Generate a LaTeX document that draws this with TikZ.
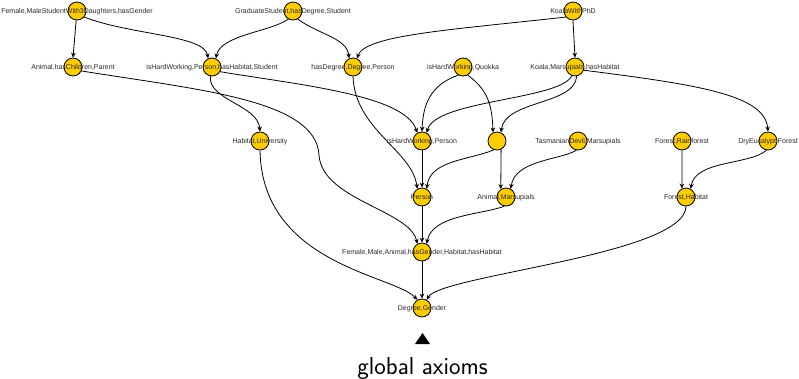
\documentclass[tikz,border=0pt]{standalone}
\usepackage{fontspec}
\newfontfamily\lblfont{Liberation Sans}
\usetikzlibrary{arrows.meta}
\definecolor{vfill}{RGB}{255,204,0}
\definecolor{lbltext}{RGB}{40,40,40}
\begin{document}
\begin{tikzpicture}[x=1pt,y=-1pt,
  vtx/.style={circle,draw=black,fill=vfill,line width=0.8pt,minimum size=18pt,inner sep=0pt},
  lbl/.style={font=\lblfont\fontsize{7}{8}\selectfont,text=lbltext,inner sep=0pt,anchor=base,yshift=-2.8pt},
  edge/.style={draw=black,line width=0.8pt,-{Stealth[length=5pt,width=4.5pt]}}]
\useasboundingbox (0,0) rectangle (799,378);
% vertices
\node[vtx] (A1) at (77,11) {};
\node[vtx] (A2) at (293,11) {};
\node[vtx] (A3) at (573,11) {};
\node[vtx] (B1) at (73,67) {};
\node[vtx] (B2) at (212,67) {};
\node[vtx] (B3) at (353,67) {};
\node[vtx] (B4) at (463,67) {};
\node[vtx] (B5) at (575,67) {};
\node[vtx] (C1) at (260,141) {};
\node[vtx] (C2) at (422,141) {};
\node[vtx] (C3) at (497,141) {};
\node[vtx] (C4) at (578,141) {};
\node[vtx] (C5) at (682,141) {};
\node[vtx] (C6) at (768,141) {};
\node[vtx] (D1) at (422,197) {};
\node[vtx] (D2) at (506,197) {};
\node[vtx] (D3) at (686,197) {};
\node[vtx] (E1) at (422,252) {};
\node[vtx] (F1) at (422,308) {};
% edges
\draw[edge] (A1.265) -- (B1.north);
\draw[edge] (A1.-40) .. controls (130,35) and (205,35) .. (B2.115);
\draw[edge] (A2.240) .. controls (270,32) and (220,35) .. (B2.65);
\draw[edge] (A2.-60) .. controls (320,35) and (347,38) .. (B3.115);
\draw[edge] (A3.220) .. controls (450,30) and (365,35) .. (B3.65);
\draw[edge] (A3.south) -- (B5.north);
\draw[edge] (B1.-25) .. controls (200,90) and (316,100) .. (319,155) .. controls (322,200) and (410,210) .. (E1.120);
\draw[edge] (B2.260) .. controls (208,100) and (258,105) .. (C1.north);
\draw[edge] (B2.-30) .. controls (300,85) and (405,95) .. (C2.120);
\draw[edge] (B3.south) .. controls (355,130) and (412,150) .. (D1.120);
\draw[edge] (B4.240) .. controls (430,85) and (423,105) .. (C2.north);
\draw[edge] (B4.-60) .. controls (488,90) and (492,105) .. (C3.115);
\draw[edge] (B5.250) .. controls (560,100) and (435,100) .. (C2.60);
\draw[edge] (B5.280) .. controls (575,105) and (505,100) .. (C3.65);
\draw[edge] (B5.-20) .. controls (700,85) and (765,95) .. (C6.north);
\draw[edge] (C1.south) .. controls (262,265) and (395,275) .. (F1.120);
\draw[edge] (C2.south) -- (D1.north);
\draw[edge] (C3.250) .. controls (470,160) and (430,160) .. (D1.60);
\draw[edge] (C3.-64) -- (D2.124);
\draw[edge] (C4.260) .. controls (560,160) and (515,160) .. (D2.60);
\draw[edge] (C5.south) -- (D3.116);
\draw[edge] (C6.260) .. controls (750,165) and (695,160) .. (D3.60);
\draw[edge] (D1.south) -- (E1.north);
\draw[edge] (D2.260) .. controls (480,215) and (432,215) .. (E1.60);
\draw[edge] (D3.south) .. controls (685,255) and (440,275) .. (F1.60);
\draw[edge] (E1.south) -- (F1.north);
% labels
\node[lbl] (A1t) at (A1.center) {Female,MaleStudentWith3Daughters,hasGender};
\node[lbl] (A2t) at (A2.center) {GraduateStudent,hasDegree,Student};
\node[lbl] (A3t) at (A3.center) {KoalaWithPhD};
\node[lbl] (B1t) at (B1.center) {Animal,hasChildren,Parent};
\node[lbl] (B2t) at (B2.center) {isHardWorking,Person,hasHabitat,Student};
\node[lbl] (B3t) at (B3.center) {hasDegree,Degree,Person};
\node[lbl] (B4t) at (B4.center) {isHardWorking,Quokka};
\node[lbl] (B5t) at (B5.center) {Koala,Marsupials,hasHabitat};
\node[lbl] (C1t) at (C1.center) {Habitat,University};
\node[lbl] (C2t) at (C2.center) {isHardWorking,Person};
\node[lbl] (C4t) at (C4.center) {TasmanianDevil,Marsupials};
\node[lbl] (C5t) at (C5.center) {Forest,Rainforest};
\node[lbl] (C6t) at (C6.center) {DryEucalypt,Forest};
\node[lbl] (D1t) at (D1.center) {Person};
\node[lbl] (D2t) at (D2.center) {Animal,Marsupials};
\node[lbl] (D3t) at (D3.center) {Forest,Habitat};
\node[lbl] (E1t) at (E1.center) {Female,Male,Animal,hasGender,Habitat,hasHabitat};
\node[lbl] (F1t) at (F1.center) {Degree,Gender};
% global axioms marker
\fill[black] (415,344) -- (430,344) -- (422.5,333) -- cycle;
\node[anchor=base,inner sep=0pt,font=\sffamily\fontsize{24.5}{28}\selectfont] (ga) at (422.5,374) {global axioms};
\end{tikzpicture}
\end{document}
